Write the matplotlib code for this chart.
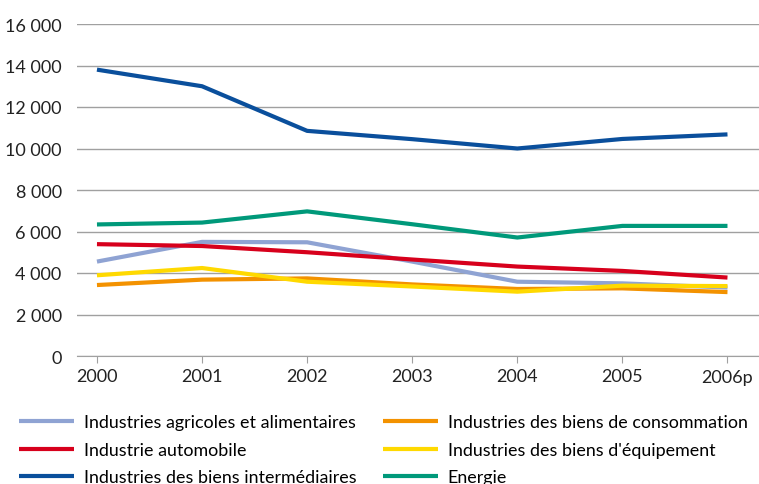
import matplotlib
matplotlib.use("Agg")
import matplotlib.pyplot as plt

plt.rcParams['font.family'] = ['Lato', 'DejaVu Sans']

years = ["2000", "2001", "2002", "2003", "2004", "2005", "2006p"]
agri = [4550, 5500, 5480, 4550, 3580, 3500, 3300]
conso = [3420, 3680, 3740, 3450, 3230, 3260, 3080]
auto = [5390, 5300, 5000, 4650, 4310, 4100, 3780]
equip = [3890, 4240, 3580, 3350, 3100, 3390, 3370]
inter = [13800, 13000, 10850, 10450, 10000, 10460, 10680]
energie = [6340, 6430, 6970, 6350, 5710, 6270, 6270]

labels = ["Industries agricoles et alimentaires", "Industries des biens de consommation",
          "Industrie automobile", "Industries des biens d'équipement",
          "Industries des biens intermédiaires", "Energie"]
yticks = [0, 2000, 4000, 6000, 8000, 10000, 12000, 14000, 16000]

colors = {
    "agri": "#8fa3d3",
    "conso": "#f39200",
    "auto": "#d7001c",
    "equip": "#ffd900",
    "inter": "#0a4f9c",
    "energie": "#00997a",
}

fig = plt.figure(figsize=(7.59, 4.85), dpi=100)
ax = fig.add_axes([77/759, 1-357/485, 682/759, 332/485])

x = list(range(len(years)))
lw = 3.0
h_agri, = ax.plot(x, agri, color=colors["agri"], lw=lw, solid_capstyle='butt')
h_conso, = ax.plot(x, conso, color=colors["conso"], lw=lw, solid_capstyle='butt')
h_auto, = ax.plot(x, auto, color=colors["auto"], lw=lw, solid_capstyle='butt')
h_equip, = ax.plot(x, equip, color=colors["equip"], lw=lw, solid_capstyle='butt')
h_inter, = ax.plot(x, inter, color=colors["inter"], lw=lw, solid_capstyle='butt')
h_energie, = ax.plot(x, energie, color=colors["energie"], lw=lw, solid_capstyle='butt')

ax.set_ylim(0, 16000)
ax.set_xlim(-0.19, 6.3)
ax.set_yticks(yticks)
ax.set_yticklabels([f"{v:,}".replace(",", " ") for v in yticks])
ax.set_xticks(x)
ax.set_xticklabels(years)
ax.yaxis.grid(True, color="#a0a0a0", lw=1.0)
ax.set_axisbelow(True)
for s in ["left", "right", "top"]:
    ax.spines[s].set_visible(False)
ax.spines["bottom"].set_color("#a0a0a0")
ax.tick_params(axis='y', length=0, labelsize=13, pad=11, colors="#222222")
ax.tick_params(axis='x', length=5, color="#a0a0a0", labelsize=13, pad=4, labelcolor="#222222")

handles = [h_agri, h_auto, h_inter, h_conso, h_equip, h_energie]
leg_labels = [labels[0], labels[2], labels[4], labels[1], labels[3], labels[5]]
fig.legend(handles, leg_labels, loc="upper left", bbox_to_anchor=(0.016, 1-408/485),
           ncol=2, frameon=False, fontsize=12.9, handlelength=3.05, handletextpad=0.55,
           columnspacing=1.5, labelspacing=0.65, borderaxespad=0)

fig.savefig("out.png", dpi=100)
